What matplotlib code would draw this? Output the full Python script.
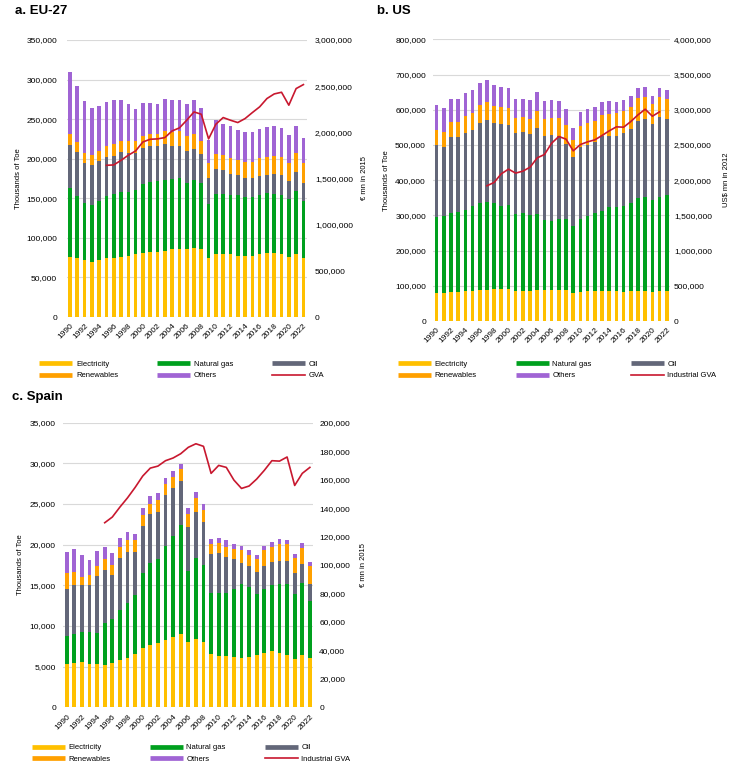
import numpy as np
import matplotlib
matplotlib.use("Agg")
import matplotlib.pyplot as plt
from matplotlib.lines import Line2D
from matplotlib.ticker import MultipleLocator, StrMethodFormatter

plt.rcParams['font.family'] = ['Liberation Sans', 'DejaVu Sans']

years = list(range(1990, 2023))

# a. EU-27, thousands of toe
eu_elec = [76000, 74000, 72500, 70000, 71500, 74000, 74000, 76000, 77500, 79000, 81000,
           82500, 82500, 84000, 86000, 86000, 86000, 87500, 86000, 74000, 79000, 80000,
           79000, 77500, 77500, 77500, 79000, 81000, 81000, 80000, 76000, 79000, 75000]
eu_gas = [87000, 79500, 71500, 72000, 75200, 79000, 82000, 82500, 81000, 82000, 87600,
          88200, 89500, 89600, 88000, 90000, 83400, 86100, 83000, 68500, 77000, 76000,
          75000, 76500, 74500, 74500, 75000, 76000, 75000, 74000, 72700, 80700, 71000]
eu_oil = [54400, 55100, 50700, 49700, 50300, 49000, 47500, 49500, 48500, 46000, 45400,
          45100, 44000, 45100, 42000, 40000, 40600, 38800, 36700, 33500, 31000, 30000,
          27000, 26000, 24000, 23600, 24700, 23000, 25000, 25000, 23300, 24000, 23500]
eu_renew = [13600, 12400, 12300, 12700, 13000, 14600, 14500, 15000, 15500, 16000, 15000,
            15200, 15800, 16300, 18000, 18700, 19000, 19400, 17300, 18000, 19500, 18800,
            19600, 19000, 20000, 20800, 21900, 22300, 22500, 23300, 23000, 23300, 24500]
eu_others = [79000, 71000, 66500, 60200, 56000, 54800, 56000, 51000, 46500, 40400, 42000,
             39500, 37900, 40600, 40700, 40000, 40700, 42200, 41600, 29300, 42500, 39600,
             41300, 37400, 37500, 37100, 37100, 37900, 37500, 36200, 35000, 34900, 31900]
eu_gva_years = list(range(1995, 2023))
eu_gva = [1643000, 1647000, 1697000, 1752000, 1799000, 1896000, 1925000, 1929000,
          1943000, 2015000, 2048000, 2131000, 2221000, 2196000, 1929000, 2088000,
          2160000, 2131000, 2106000, 2149000, 2214000, 2276000, 2366000, 2416000,
          2434000, 2294000, 2474000, 2517000]

# b. US, thousands of toe
us_elec = [80400, 80400, 83200, 83200, 86000, 86000, 88000, 89000, 90000, 91000, 91000,
           86000, 86000, 86000, 87000, 87000, 87000, 88000, 87000, 78500, 83200, 84000,
           84000, 84000, 85000, 84000, 83200, 84000, 85000, 85000, 81300, 85000, 86000]
us_gas = [214600, 216600, 223800, 226800, 230000, 241000, 248000, 249600, 245700, 236000,
          239000, 217500, 219400, 214700, 215600, 198600, 197600, 202300, 202400, 191900,
          207800, 213900, 222400, 228000, 237500, 238500, 242800, 249800, 263000, 267700,
          263700, 267700, 272400]
us_oil = [204300, 198500, 216000, 212000, 219000, 216800, 227600, 233400, 227900, 233700,
          228000, 229800, 230800, 230700, 246800, 241100, 244000, 234500, 214600, 194600,
          204500, 203100, 200600, 212000, 204200, 204200, 208300, 212800, 220300, 222300,
          213900, 226000, 214600]
us_renew = [43500, 41500, 41500, 43500, 48500, 48200, 50100, 49300, 47400, 47300, 47000,
            43300, 43500, 42600, 46300, 47300, 49200, 51800, 52000, 49400, 59500, 60700,
            61000, 60400, 61300, 63300, 62400, 60400, 64300, 61400, 57600, 56800, 57700]
us_others = [70000, 67300, 65500, 64500, 64500, 64300, 62300, 62400, 59400, 57700, 58000,
             55100, 52000, 53000, 53900, 51000, 50200, 47400, 45400, 34100, 39000, 39700,
             39000, 37600, 38000, 33000, 30300, 31000, 29400, 27600, 22900, 25500, 24600]
us_gva_years = list(range(1997, 2022))
us_gva = [1920000, 1967000, 2090000, 2156000, 2100000, 2128000, 2184000, 2317000,
          2364000, 2525000, 2620000, 2582000, 2416000, 2506000, 2544000, 2572000,
          2634000, 2700000, 2757000, 2752000, 2832000, 2927000, 3007000, 2908000, 2970000]

# c. Spain, thousands of toe
es_elec = [5370, 5490, 5530, 5370, 5370, 5160, 5410, 5860, 6070, 6520, 7290, 7660, 7870,
           8240, 8690, 9020, 8030, 8360, 8070, 6560, 6270, 6270, 6190, 6070, 6150, 6470,
           6640, 6970, 6720, 6470, 5900, 6470, 6070]
es_gas = [3440, 3530, 3690, 3930, 3810, 5170, 5410, 6060, 6800, 7250, 9180, 10040, 10330,
          11640, 12410, 13360, 8770, 10040, 9390, 7540, 7740, 7740, 8360, 9050, 8680, 7420,
          7950, 8070, 8400, 8650, 8070, 8770, 7040]
es_oil = [5740, 6020, 5820, 5740, 7010, 6550, 5450, 6480, 6270, 5370, 5780, 6070, 5860,
          6190, 5830, 5490, 5410, 5660, 5330, 4790, 5000, 4470, 3730, 2680, 2590, 2710,
          2830, 2860, 2910, 2910, 2500, 2380, 2050]
es_renew = [1920, 1640, 1020, 1270, 1230, 1320, 1230, 1270, 1430, 1390, 1360, 1270, 1390,
            1350, 1350, 1390, 1600, 1640, 1460, 1230, 1190, 1280, 1190, 1500, 1310, 1600,
            1880, 1860, 2090, 2090, 1930, 1970, 2260]
es_others = [2630, 2830, 2630, 1850, 1800, 1510, 1480, 1190, 1030, 780, 900, 980, 900, 820,
             740, 700, 700, 780, 710, 580, 580, 860, 660, 500, 620, 490, 580, 610, 540, 500,
             500, 580, 490]
es_gva_years = list(range(1995, 2023))
es_gva = [129700, 133700, 140700, 147200, 154500, 162500, 168100, 169500, 173300, 175200,
          178200, 182700, 185200, 183400, 164400, 170000, 168600, 159700, 153800, 155500,
          160400, 166500, 173300, 173000, 175900, 155900, 164400, 168600]

COLORS = {'Electricity': '#FFC000', 'Natural gas': '#00A01E', 'Oil': '#636779',
          'Renewables': '#FFA000', 'Others': '#A064D4'}
RED = '#C8182F'
GRID = '#D9D9D9'


def draw_panel(fig, rect, segs, gva_years, gva, gva_label, ymax, ystep, y2max, y2step,
               y2label, pads, label_x, leg_anchor):
    ax = fig.add_axes(rect)
    x = np.arange(len(years))
    bottom = np.zeros(len(years))
    for name, vals in segs:
        ax.bar(x, vals, 0.5, bottom=bottom, color=COLORS[name], linewidth=0, zorder=2)
        bottom += np.array(vals)

    ax.set_xlim(-0.45, len(years) - 0.55)
    ax.set_ylim(0, ymax)
    ax.yaxis.set_major_locator(MultipleLocator(ystep))
    ax.yaxis.set_major_formatter(StrMethodFormatter('{x:,.0f}'))
    ax.set_xticks(x[::2])
    ax.set_xticklabels([str(y) for y in years[::2]], rotation=45, ha='right',
                       va='top', rotation_mode='anchor')
    ax.grid(axis='y', color=GRID, linewidth=0.8)
    ax.set_axisbelow(True)
    ax.tick_params(axis='y', length=0, labelsize=6, pad=pads[0])
    ax.tick_params(axis='x', length=0, labelsize=6, pad=pads[2])
    for s in ax.spines.values():
        s.set_visible(False)
    ax.set_ylabel('Thousands of Toe', fontsize=5.5)
    ax.yaxis.set_label_coords(label_x[0], 0.5)

    # industrial GVA on the right axis
    ax2 = ax.twinx()
    gx = [years.index(y) for y in gva_years]
    ax2.plot(gx, gva, color=RED, linewidth=1.2)
    ax2.set_ylim(0, y2max)
    ax2.yaxis.set_major_locator(MultipleLocator(y2step))
    ax2.yaxis.set_major_formatter(StrMethodFormatter('{x:,.0f}'))
    ax2.tick_params(axis='y', length=0, labelsize=6, pad=pads[1])
    for s in ax2.spines.values():
        s.set_visible(False)
    ax2.set_ylabel(y2label, fontsize=5.5)
    ax2.yaxis.set_label_coords(label_x[1], 0.5)

    # legend: bars shown as thick strokes, GVA as a thin line
    order = ['Electricity', 'Renewables', 'Natural gas', 'Others', 'Oil']
    handles = [Line2D([], [], color=COLORS[n], linewidth=3.4, solid_capstyle='butt')
               for n in order]
    handles.append(Line2D([], [], color=RED, linewidth=1.2))
    labels = order + [gva_label]
    ax.legend(handles, labels, ncol=3, loc='center left', bbox_to_anchor=leg_anchor,
              bbox_transform=fig.transFigure, frameon=False, fontsize=5.5,
              handlelength=4.3, handletextpad=0.5, columnspacing=5.1,
              labelspacing=0.55, borderpad=0, borderaxespad=0)
    return ax


def main():
    fig = plt.figure(figsize=(7.4, 7.7), dpi=100)
    W, H = 740.0, 770.0

    def rect(l, t, r, b):
        return [l / W, 1 - b / H, (r - l) / W, (b - t) / H]

    draw_panel(fig, rect(66.7, 40, 306.7, 317),
               [('Electricity', eu_elec), ('Natural gas', eu_gas), ('Oil', eu_oil),
                ('Renewables', eu_renew), ('Others', eu_others)],
               eu_gva_years, eu_gva, 'GVA', 350000, 50000, 3000000, 500000,
               '€ mn in 2015', (7, 6, 4), (-0.186, 1.226), (39.3 / W, 1 - 369.8 / H))
    fig.text(15 / W, 1 - 11.5 / H, 'a. EU-27', fontsize=9.5, fontweight='bold',
             ha='left', va='center')

    draw_panel(fig, rect(433.3, 39.3, 670, 321),
               [('Electricity', us_elec), ('Natural gas', us_gas), ('Oil', us_oil),
                ('Renewables', us_renew), ('Others', us_others)],
               us_gva_years, us_gva, 'Industrial GVA', 800000, 100000, 4000000, 500000,
               'US$ mn in 2012', (5.3, 2.9, 4), (-0.183, 1.222), (398 / W, 1 - 369.8 / H))
    fig.text(377.3 / W, 1 - 11.5 / H, 'b. US', fontsize=9.5, fontweight='bold',
             ha='left', va='center')

    draw_panel(fig, rect(63.3, 422.7, 313.3, 707.3),
               [('Electricity', es_elec), ('Natural gas', es_gas), ('Oil', es_oil),
                ('Renewables', es_renew), ('Others', es_others)],
               es_gva_years, es_gva, 'Industrial GVA', 35000, 5000, 200000, 20000,
               '€ mn in 2015', (5.3, 4.3, 4), (-0.157, 1.187), (32 / W, 1 - 753.5 / H))
    fig.text(11.7 / W, 1 - 397 / H, 'c. Spain', fontsize=9.5, fontweight='bold',
             ha='left', va='center')

    fig.savefig('out.png', dpi=100)


if __name__ == "__main__":
    main()
